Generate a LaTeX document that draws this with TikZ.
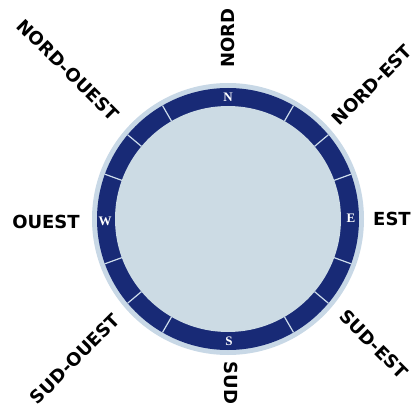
\documentclass[tikz,border=0pt]{standalone}
\usepackage{fontspec}
\newfontfamily\labfont{DejaVu Sans}
\newfontfamily\pointfont{Liberation Serif}
\definecolor{navy}{RGB}{24,42,118}
\definecolor{halo}{RGB}{200,216,230}
\definecolor{disk}{RGB}{204,219,228}
\definecolor{tickc}{RGB}{205,220,235}
\tikzset{
  lab/.style={font=\labfont\bfseries\fontsize{18}{18}\selectfont, text=black, inner sep=0pt},
  pt/.style={font=\pointfont\bfseries\fontsize{13}{13}\selectfont, text=white, inner sep=0pt},
  tickline/.style={draw=tickc, line width=1.2pt}
}
\begin{document}
\begin{tikzpicture}[x=1pt,y=-1pt]
\useasboundingbox (0,0) rectangle (418,409);
\coordinate (c) at (228,219);
\fill[halo] (c) circle[radius=136];
\fill[navy] (c) circle[radius=131];
\fill[disk] (c) circle[radius=113];
\foreach \a in {30,50,70,110,130,150,210,230,250,290,310,330}{
  \draw[tickline] ({228+113*sin(\a)},{219-113*cos(\a)}) -- ({228+131*sin(\a)},{219-131*cos(\a)});
}
\node[pt] (pn) at (228,97) {N};
\node[pt] (ps) at (229,341) {S};
\node[pt] (pw) at (105,221) {W};
\node[pt] (pe) at (351,218) {E};
\node[lab, rotate=90] (nord) at (228,38) {NORD};
\node[lab, rotate=-90] (sud) at (231,383) {SUD};
\node[lab] (ouest) at (46,222) {OUEST};
\node[lab] (est) at (392,219) {EST};
\node[lab, rotate=-45] (no) at (68,70) {NORD-OUEST};
\node[lab, rotate=45] (ne) at (372,85) {NORD-EST};
\node[lab, rotate=45] (so) at (75,359) {SUD-OUEST};
\node[lab, rotate=-45] (se) at (374,344) {SUD-EST};
\end{tikzpicture}
\end{document}
